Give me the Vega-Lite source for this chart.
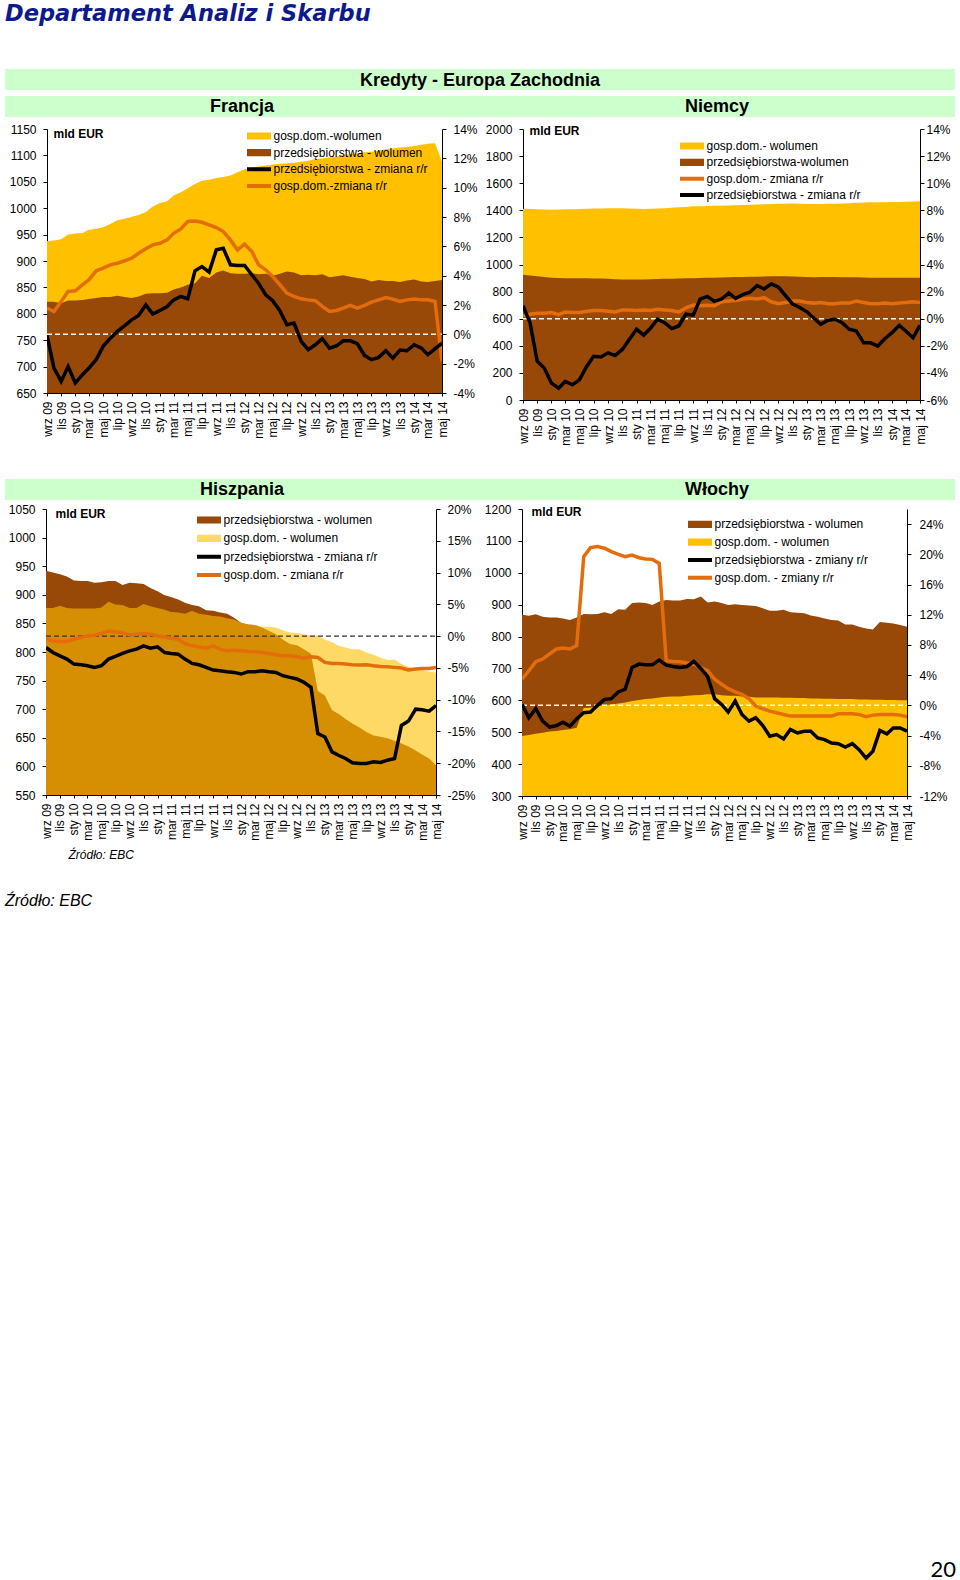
{
"$schema": "https://vega.github.io/schema/vega-lite/v6.json",
"padding": {"left": 5, "top": 2, "right": 0, "bottom": 0},
"title": {"text": "Departament Analiz i Skarbu", "anchor": "start", "font": "DejaVu Sans", "fontSize": 22.5, "fontStyle": "italic", "fontWeight": "bold", "color": "#0D1A8C", "offset": 44},
"datasets": {"m": [
{"d":"2009-09","fh":938,"fc":823,"fhy":1.79,"fcy":-0.07,"dh":1411,"dc":924,"dhy":0.2,"dcy":0.96,"eh":877,"ec":942,"ehy":-0.49,"ecy":-1.79,"ih":488,"ic":868,"ihy":3.47,"icy":0.13},
{"d":"2009-10","fh":939,"fc":823,"fhy":1.56,"fcy":-2.3,"dh":1410,"dc":918,"dhy":0.33,"dcy":-0.29,"eh":877,"ec":939,"ehy":-0.75,"ecy":-2.58,"ih":491,"ic":865,"ihy":4.58,"icy":-1.64},
{"d":"2009-11","fh":941,"fc":820,"fhy":2.24,"fcy":-3.21,"dh":1408,"dc":914,"dhy":0.4,"dcy":-3.14,"eh":881,"ec":936,"ehy":-0.86,"ecy":-3.1,"ih":495,"ic":870,"ihy":5.78,"icy":-0.45},
{"d":"2009-12","fh":950,"fc":825,"fhy":2.92,"fcy":-2.19,"dh":1406,"dc":908,"dhy":0.4,"dcy":-3.64,"eh":877,"ec":932,"ehy":-0.86,"ecy":-3.62,"ih":498,"ic":862,"ihy":6.13,"icy":-2.09},
{"d":"2010-01","fh":952,"fc":825,"fhy":2.97,"fcy":-3.32,"dh":1404,"dc":902,"dhy":0.45,"dcy":-4.76,"eh":876,"ec":925,"ehy":-0.49,"ecy":-4.4,"ih":502,"ic":860,"ihy":6.8,"icy":-2.89},
{"d":"2010-02","fh":953,"fc":826,"fhy":3.38,"fcy":-2.75,"dh":1405,"dc":900,"dhy":0.3,"dcy":-5.13,"eh":876,"ec":924,"ehy":-0.23,"ecy":-4.51,"ih":504,"ic":860,"ihy":7.47,"icy":-2.67},
{"d":"2010-03","fh":959,"fc":828,"fhy":3.72,"fcy":-2.3,"dh":1407,"dc":899,"dhy":0.5,"dcy":-4.63,"eh":876,"ec":924,"ehy":0.03,"ecy":-4.66,"ih":507,"ic":857,"ihy":7.6,"icy":-2.22},
{"d":"2010-04","fh":961,"fc":830,"fhy":4.33,"fcy":-1.73,"dh":1408,"dc":898,"dhy":0.45,"dcy":-4.88,"eh":876,"ec":921,"ehy":0.13,"ecy":-4.92,"ih":509,"ic":852,"ihy":7.47,"icy":-2.76},
{"d":"2010-05","fh":964,"fc":832,"fhy":4.51,"fcy":-0.82,"dh":1409,"dc":899,"dhy":0.45,"dcy":-4.51,"eh":878,"ec":922,"ehy":0.4,"ecy":-4.66,"ih":514,"ic":860,"ihy":7.91,"icy":-1.78},
{"d":"2010-06","fh":970,"fc":832,"fhy":4.74,"fcy":-0.26,"dh":1411,"dc":898,"dhy":0.55,"dcy":-3.52,"eh":888,"ec":924,"ehy":0.81,"ecy":-3.62,"ih":576,"ic":871,"ihy":19.69,"icy":-0.98},
{"d":"2010-07","fh":977,"fc":834,"fhy":4.85,"fcy":0.2,"dh":1413,"dc":897,"dhy":0.6,"dcy":-2.77,"eh":883,"ec":924,"ehy":0.66,"ecy":-3.2,"ih":577,"ic":870,"ihy":20.89,"icy":-0.89},
{"d":"2010-08","fh":980,"fc":832,"fhy":5.01,"fcy":0.58,"dh":1414,"dc":896,"dhy":0.6,"dcy":-2.82,"eh":882,"ec":917,"ehy":0.55,"ecy":-2.73,"ih":581,"ic":871,"ihy":21.02,"icy":0},
{"d":"2010-09","fh":984,"fc":830,"fhy":5.19,"fcy":0.99,"dh":1416,"dc":894,"dhy":0.55,"dcy":-2.52,"eh":877,"ec":921,"ehy":0.19,"ecy":-2.32,"ih":585,"ic":876,"ihy":20.8,"icy":0.8},
{"d":"2010-10","fh":987,"fc":833,"fhy":5.53,"fcy":1.29,"dh":1416,"dc":892,"dhy":0.5,"dcy":-2.72,"eh":877,"ec":920,"ehy":0.29,"ecy":-2.06,"ih":587,"ic":871,"ihy":20.35,"icy":0.89},
{"d":"2010-11","fh":993,"fc":838,"fhy":5.83,"fcy":2.01,"dh":1415,"dc":890,"dhy":0.65,"dcy":-2.27,"eh":884,"ec":919,"ehy":0.4,"ecy":-1.53,"ih":590,"ic":886,"ihy":20,"icy":1.78},
{"d":"2010-12","fh":1003,"fc":839,"fhy":6.1,"fcy":1.38,"dh":1414,"dc":890,"dhy":0.65,"dcy":-1.53,"eh":880,"ec":912,"ehy":0.29,"ecy":-1.9,"ih":593,"ic":884,"ihy":19.69,"icy":2.13},
{"d":"2011-01","fh":1010,"fc":839,"fhy":6.21,"fcy":1.63,"dh":1411,"dc":889,"dhy":0.6,"dcy":-0.78,"eh":877,"ec":906,"ehy":0.03,"ecy":-1.69,"ih":598,"ic":905,"ihy":19.91,"icy":5.02},
{"d":"2011-02","fh":1013,"fc":840,"fhy":6.44,"fcy":1.9,"dh":1410,"dc":890,"dhy":0.65,"dcy":-1.21,"eh":874,"ec":899,"ehy":-0.13,"ecy":-2.58,"ih":601,"ic":907,"ihy":19.55,"icy":5.47},
{"d":"2011-03","fh":1024,"fc":846,"fhy":6.89,"fcy":2.35,"dh":1412,"dc":892,"dhy":0.6,"dcy":-0.73,"eh":870,"ec":896,"ehy":-0.33,"ecy":-2.73,"ih":604,"ic":905,"ihy":19.38,"icy":5.38},
{"d":"2011-04","fh":1030,"fc":850,"fhy":7.19,"fcy":2.58,"dh":1414,"dc":893,"dhy":0.7,"dcy":-0.04,"eh":869,"ec":892,"ehy":-0.49,"ecy":-2.84,"ih":606,"ic":899,"ihy":19.33,"icy":5.38},
{"d":"2011-05","fh":1038,"fc":855,"fhy":7.69,"fcy":2.42,"dh":1416,"dc":894,"dhy":0.65,"dcy":-0.29,"eh":867,"ec":886,"ehy":-1.17,"ecy":-3.62,"ih":609,"ic":910,"ihy":18.8,"icy":6},
{"d":"2011-06","fh":1046,"fc":858,"fhy":7.73,"fcy":4.33,"dh":1419,"dc":895,"dhy":0.6,"dcy":-0.73,"eh":872,"ec":882,"ehy":-1.53,"ecy":-4.3,"ih":611,"ic":915,"ihy":5.91,"icy":5.33},
{"d":"2011-07","fh":1052,"fc":872,"fhy":7.64,"fcy":4.62,"dh":1422,"dc":897,"dhy":0.5,"dcy":-0.54,"eh":867,"ec":880,"ehy":-1.69,"ecy":-4.51,"ih":612,"ic":913,"ihy":5.82,"icy":5.15},
{"d":"2011-08","fh":1054,"fc":868,"fhy":7.46,"fcy":4.24,"dh":1425,"dc":898,"dhy":0.8,"dcy":0.33,"eh":865,"ec":873,"ehy":-1.9,"ecy":-4.92,"ih":612,"ic":913,"ihy":5.78,"icy":5.02},
{"d":"2011-09","fh":1057,"fc":878,"fhy":7.28,"fcy":5.76,"dh":1429,"dc":899,"dhy":1,"dcy":0.26,"eh":863,"ec":872,"ehy":-1.53,"ecy":-5.34,"ih":614,"ic":918,"ihy":5.6,"icy":5.15},
{"d":"2011-10","fh":1059,"fc":882,"fhy":7.01,"fcy":5.87,"dh":1430,"dc":900,"dhy":0.95,"dcy":1.45,"eh":862,"ec":869,"ehy":-2.06,"ecy":-5.44,"ih":616,"ic":917,"ihy":5.47,"icy":5.82},
{"d":"2011-11","fh":1062,"fc":877,"fhy":6.44,"fcy":4.74,"dh":1431,"dc":902,"dhy":1,"dcy":1.65,"eh":859,"ec":867,"ehy":-2.32,"ecy":-5.6,"ih":617,"ic":926,"ihy":5.02,"icy":4.89},
{"d":"2011-12","fh":1068,"fc":876,"fhy":5.76,"fcy":4.69,"dh":1433,"dc":903,"dhy":0.95,"dcy":1.28,"eh":857,"ec":860,"ehy":-2.21,"ecy":-5.71,"ih":619,"ic":907,"ihy":4.58,"icy":3.82},
{"d":"2012-01","fh":1074,"fc":876,"fhy":6.15,"fcy":4.69,"dh":1434,"dc":904,"dhy":1.25,"dcy":1.45,"eh":851,"ec":851,"ehy":-2.32,"ecy":-5.97,"ih":619,"ic":910,"ihy":3.47,"icy":0.89},
{"d":"2012-02","fh":1076,"fc":877,"fhy":5.65,"fcy":4.06,"dh":1435,"dc":905,"dhy":1.3,"dcy":1.9,"eh":848,"ec":848,"ehy":-2.42,"ecy":-5.6,"ih":616,"ic":905,"ihy":2.8,"icy":0.13},
{"d":"2012-03","fh":1079,"fc":875,"fhy":4.74,"fcy":3.49,"dh":1437,"dc":907,"dhy":1.35,"dcy":1.5,"eh":847,"ec":847,"ehy":-2.47,"ecy":-5.6,"ih":614,"ic":899,"ihy":2.22,"icy":-0.89},
{"d":"2012-04","fh":1081,"fc":876,"fhy":4.4,"fcy":2.69,"dh":1439,"dc":908,"dhy":1.45,"dcy":1.78,"eh":844,"ec":843,"ehy":-2.58,"ecy":-5.44,"ih":614,"ic":901,"ihy":1.78,"icy":0.58},
{"d":"2012-05","fh":1083,"fc":872,"fhy":3.94,"fcy":2.29,"dh":1441,"dc":909,"dhy":1.5,"dcy":1.95,"eh":844,"ec":837,"ehy":-2.73,"ecy":-5.6,"ih":612,"ic":899,"ihy":1.47,"icy":-1.2},
{"d":"2012-06","fh":1084,"fc":876,"fhy":3.38,"fcy":1.61,"dh":1442,"dc":910,"dhy":1.45,"dcy":2.45,"eh":843,"ec":831,"ehy":-2.94,"ecy":-5.71,"ih":611,"ic":897,"ihy":0.89,"icy":-2.09},
{"d":"2012-07","fh":1085,"fc":880,"fhy":2.81,"fcy":0.65,"dh":1444,"dc":911,"dhy":1.55,"dcy":2.2,"eh":838,"ec":822,"ehy":-3.1,"ecy":-6.23,"ih":609,"ic":896,"ihy":-0.09,"icy":-1.64},
{"d":"2012-08","fh":1086,"fc":878,"fhy":2.58,"fcy":0.77,"dh":1446,"dc":913,"dhy":1.25,"dcy":2.57,"eh":834,"ec":814,"ehy":-3.1,"ecy":-6.49,"ih":609,"ic":889,"ihy":-0.45,"icy":-2.67},
{"d":"2012-09","fh":1088,"fc":873,"fhy":2.42,"fcy":-0.48,"dh":1448,"dc":914,"dhy":1.1,"dcy":2.32,"eh":833,"ec":812,"ehy":-3.25,"ecy":-6.75,"ih":609,"ic":881,"ihy":-0.76,"icy":-4.09},
{"d":"2012-10","fh":1090,"fc":874,"fhy":2.35,"fcy":-1.05,"dh":1449,"dc":913,"dhy":1.2,"dcy":1.7,"eh":831,"ec":805,"ehy":-3.46,"ecy":-7.27,"ih":609,"ic":881,"ihy":-0.98,"icy":-3.87},
{"d":"2012-11","fh":1093,"fc":873,"fhy":2.29,"fcy":-0.71,"dh":1450,"dc":912,"dhy":1.3,"dcy":1.08,"eh":829,"ec":797,"ehy":-3.25,"ecy":-8.05,"ih":608,"ic":884,"ihy":-1.2,"icy":-4.45},
{"d":"2012-12","fh":1094,"fc":875,"fhy":1.9,"fcy":-0.3,"dh":1449,"dc":910,"dhy":1.3,"dcy":0.83,"eh":829,"ec":732,"ehy":-3.36,"ecy":-15.35,"ih":608,"ic":876,"ihy":-1.42,"icy":-3.2},
{"d":"2013-01","fh":1096,"fc":869,"fhy":1.56,"fcy":-0.94,"dh":1446,"dc":907,"dhy":1.2,"dcy":0.51,"eh":822,"ec":724,"ehy":-4.14,"ecy":-15.87,"ih":607,"ic":875,"ihy":-1.42,"icy":-3.64},
{"d":"2013-02","fh":1098,"fc":871,"fhy":1.63,"fcy":-0.78,"dh":1446,"dc":906,"dhy":1.15,"dcy":0.01,"eh":817,"ec":698,"ehy":-4.3,"ecy":-18.22,"ih":607,"ic":873,"ihy":-1.42,"icy":-3.42},
{"d":"2013-03","fh":1101,"fc":873,"fhy":1.79,"fcy":-0.44,"dh":1447,"dc":907,"dhy":1.2,"dcy":-0.41,"eh":811,"ec":692,"ehy":-4.3,"ecy":-18.74,"ih":606,"ic":866,"ihy":-1.42,"icy":-3.42},
{"d":"2013-04","fh":1102,"fc":870,"fhy":1.97,"fcy":-0.44,"dh":1448,"dc":907,"dhy":1.1,"dcy":-0.11,"eh":808,"ec":683,"ehy":-4.4,"ecy":-19.26,"ih":606,"ic":862,"ihy":-1.42,"icy":-4.31},
{"d":"2013-05","fh":1104,"fc":868,"fhy":1.79,"fcy":-0.64,"dh":1448,"dc":907,"dhy":1.1,"dcy":-0.04,"eh":805,"ec":675,"ehy":-4.51,"ecy":-19.94,"ih":605,"ic":857,"ihy":-1.42,"icy":-4.53},
{"d":"2013-06","fh":1106,"fc":866,"fhy":1.97,"fcy":-1.44,"dh":1450,"dc":906,"dhy":1.15,"dcy":-0.29,"eh":805,"ec":668,"ehy":-4.56,"ecy":-20.04,"ih":605,"ic":852,"ihy":-1.42,"icy":-4.98},
{"d":"2013-07","fh":1107,"fc":861,"fhy":2.2,"fcy":-1.73,"dh":1452,"dc":905,"dhy":1.15,"dcy":-0.78,"eh":799,"ec":660,"ehy":-4.51,"ecy":-20.04,"ih":604,"ic":850,"ihy":-1.11,"icy":-5.07},
{"d":"2013-08","fh":1109,"fc":864,"fhy":2.35,"fcy":-1.57,"dh":1455,"dc":905,"dhy":1.3,"dcy":-0.91,"eh":795,"ec":654,"ehy":-4.66,"ecy":-19.78,"ih":604,"ic":838,"ihy":-1.11,"icy":-5.51},
{"d":"2013-09","fh":1112,"fc":862,"fhy":2.51,"fcy":-1.12,"dh":1458,"dc":904,"dhy":1.2,"dcy":-1.78,"eh":790,"ec":652,"ehy":-4.77,"ecy":-19.89,"ih":604,"ic":838,"ihy":-1.11,"icy":-5.07},
{"d":"2013-10","fh":1113,"fc":862,"fhy":2.4,"fcy":-1.62,"dh":1459,"dc":903,"dhy":1.1,"dcy":-1.78,"eh":786,"ec":649,"ehy":-4.82,"ecy":-19.52,"ih":603,"ic":831,"ihy":-1.2,"icy":-5.87},
{"d":"2013-11","fh":1115,"fc":860,"fhy":2.24,"fcy":-1.07,"dh":1460,"dc":903,"dhy":1.1,"dcy":-2.02,"eh":787,"ec":645,"ehy":-4.92,"ecy":-19.26,"ih":603,"ic":825,"ihy":-1.51,"icy":-6.98},
{"d":"2013-12","fh":1116,"fc":863,"fhy":2.35,"fcy":-1.12,"dh":1460,"dc":902,"dhy":1.15,"dcy":-1.48,"eh":779,"ec":640,"ehy":-5.03,"ecy":-14.05,"ih":602,"ic":822,"ihy":-1.29,"icy":-6.09},
{"d":"2014-01","fh":1118,"fc":865,"fhy":2.4,"fcy":-0.71,"dh":1461,"dc":902,"dhy":1.1,"dcy":-1.03,"eh":774,"ec":635,"ehy":-5.34,"ecy":-13.37,"ih":602,"ic":846,"ihy":-1.2,"icy":-3.33},
{"d":"2014-02","fh":1120,"fc":861,"fhy":2.35,"fcy":-0.94,"dh":1462,"dc":902,"dhy":1.15,"dcy":-0.49,"eh":771,"ec":628,"ehy":-5.18,"ecy":-11.49,"ih":601,"ic":843,"ihy":-1.2,"icy":-3.78},
{"d":"2014-03","fh":1122,"fc":860,"fhy":2.35,"fcy":-1.39,"dh":1463,"dc":902,"dhy":1.2,"dcy":-0.91,"eh":769,"ec":621,"ehy":-5.08,"ecy":-11.6,"ih":601,"ic":841,"ihy":-1.2,"icy":-2.98},
{"d":"2014-04","fh":1123,"fc":862,"fhy":2.24,"fcy":-0.98,"dh":1465,"dc":902,"dhy":1.25,"dcy":-1.4,"eh":766,"ec":614,"ehy":-5.08,"ecy":-11.8,"ih":600,"ic":836,"ihy":-1.29,"icy":-2.98},
{"d":"2014-05","fh":1088,"fc":864,"fhy":-1.85,"fcy":-0.6,"dh":1466,"dc":902,"dhy":1.2,"dcy":-0.49,"eh":764,"ec":602,"ehy":-4.92,"ecy":-10.92,"ih":600,"ic":831,"ihy":-1.51,"icy":-3.42}
]},
"spacing": 0,
"resolve": {"scale": {"fill": "independent", "stroke": "independent"}},
"vconcat": [
{"width": 950, "height": 21, "view": {"fill": "#CCFFCC", "stroke": null}, "data": {"values": [{"t": "Kredyty - Europa Zachodnia"}]}, "mark": {"type": "text", "fontSize": 18, "fontWeight": "bold", "color": "#000000", "dy": 1}, "encoding": {"text": {"field": "t", "type": "nominal"}}},
{"width": 1, "height": 6, "data": {"values": []}, "mark": "point"},
{"hconcat": [
  {"width": 474, "height": 21, "view": {"fill": "#CCFFCC", "stroke": null}, "data": {"values": [{"t": "Francja"}]}, "mark": {"type": "text", "fontSize": 18, "fontWeight": "bold", "color": "#000000"}, "encoding": {"text": {"field": "t", "type": "nominal"}}},
  {"width": 476, "height": 21, "view": {"fill": "#CCFFCC", "stroke": null}, "data": {"values": [{"t": "Niemcy"}]}, "mark": {"type": "text", "fontSize": 18, "fontWeight": "bold", "color": "#000000"}, "encoding": {"text": {"field": "t", "type": "nominal"}}}
], "spacing": 0, "bounds": "flush"},
{"width": 1, "height": 6, "data": {"values": []}, "mark": "point"},
{"hconcat": [
  {"width": 42, "height": 1, "data": {"values": []}, "mark": "point"},
  {"width": 395, "height": 264, "data": {"name": "m"},
   "encoding": {"x": {"field": "d", "type": "temporal", "title": null, "scale": {"type": "utc", "nice": false}, "axis": {"tickCount": {"interval": "month", "step": 2}, "labelExpr": "['sty','lut','mar','kwi','maj','cze','lip','sie','wrz','paź','lis','gru'][utcmonth(datum.value)] + ' ' + utcFormat(datum.value, '%y')", "labelAngle": -90, "labelOverlap": false, "labelFlush": false, "labelBound": false, "tickSize": 3, "labelPadding": 5}}},
   "layer": [
    {"layer": [
     {"mark": {"type": "area", "clip": true}, "encoding": {
       "y": {"field": "fh", "type": "quantitative", "title": "mld EUR", "scale": {"domain": [650, 1150], "nice": false, "zero": false}, "axis": {"orient": "left", "values": [650,700,750,800,850,900,950,1000,1050,1100,1150], "format": "d", "labelOverlap": false, "labelSeparation": 0, "titleAngle": 0, "titleAlign": "left", "titleBaseline": "middle", "titleX": 6, "titleY": 4}},
       "fill": {"datum": "gosp.dom.-wolumen", "type": "nominal", "scale": {"domain": ["gosp.dom.-wolumen", "przedsiębiorstwa - wolumen"], "range": ["#FFC000", "#984807"]}, "legend": {"orient": "none", "legendX": 200, "legendY": 0, "title": null, "symbolType": "M-1,-0.3H1V0.3H-1Z", "symbolSize": 576, "symbolStrokeWidth": 0, "rowPadding": 2.7, "labelOffset": 2.5}}}},
     {"mark": {"type": "area", "clip": true}, "encoding": {
       "y": {"field": "fc", "type": "quantitative", "title": "mld EUR", "axis": {"orient": "left", "values": [650,700,750,800,850,900,950,1000,1050,1100,1150], "format": "d", "labelOverlap": false, "labelSeparation": 0, "titleAngle": 0, "titleAlign": "left", "titleBaseline": "middle", "titleX": 6, "titleY": 4}},
       "fill": {"datum": "przedsiębiorstwa - wolumen", "type": "nominal"}}}
    ]},
    {"layer": [
     {"mark": {"type": "line", "color": "#FFF3E6", "strokeDash": [5, 3], "strokeWidth": 1.5}, "encoding": {
       "y": {"datum": 0, "type": "quantitative", "scale": {"domain": [-4, 14], "nice": false, "zero": false}, "axis": {"orient": "right", "values": [-4,-2,0,2,4,6,8,10,12,14], "labelExpr": "datum.value + '%'", "labelOverlap": false, "labelSeparation": 0, "title": null}}}},
     {"mark": {"type": "line", "strokeWidth": 3.5, "clip": true}, "encoding": {
       "y": {"field": "fhy", "type": "quantitative", "title": null, "axis": {"orient": "right", "values": [-4,-2,0,2,4,6,8,10,12,14], "labelExpr": "datum.value + '%'", "labelOverlap": false, "labelSeparation": 0, "title": null}},
       "stroke": {"datum": "gosp.dom.-zmiana r/r", "type": "nominal", "scale": {"domain": ["przedsiębiorstwa - zmiana r/r", "gosp.dom.-zmiana r/r"], "range": ["#000000", "#E46C0A"]}, "legend": {"orient": "none", "legendX": 198, "legendY": 33.3, "title": null, "symbolType": "stroke", "symbolSize": 576, "symbolStrokeWidth": 4, "rowPadding": 2.7, "labelOffset": 0.5}}}},
     {"mark": {"type": "line", "strokeWidth": 3.5, "clip": true}, "encoding": {
       "y": {"field": "fcy", "type": "quantitative", "title": null, "axis": {"orient": "right", "values": [-4,-2,0,2,4,6,8,10,12,14], "labelExpr": "datum.value + '%'", "labelOverlap": false, "labelSeparation": 0, "title": null}},
       "stroke": {"datum": "przedsiębiorstwa - zmiana r/r", "type": "nominal"}}}
    ]}
   ],
   "resolve": {"scale": {"y": "independent"}}
  },
  {"width": 81, "height": 1, "data": {"values": []}, "mark": "point"},
  {"width": 397, "height": 271, "data": {"name": "m"},
   "encoding": {"x": {"field": "d", "type": "temporal", "title": null, "scale": {"type": "utc", "nice": false}, "axis": {"tickCount": {"interval": "month", "step": 2}, "labelExpr": "['sty','lut','mar','kwi','maj','cze','lip','sie','wrz','paź','lis','gru'][utcmonth(datum.value)] + ' ' + utcFormat(datum.value, '%y')", "labelAngle": -90, "labelOverlap": false, "labelFlush": false, "labelBound": false, "tickSize": 3, "labelPadding": 5}}},
   "layer": [
    {"layer": [
     {"mark": {"type": "area", "clip": true}, "encoding": {
       "y": {"field": "dh", "type": "quantitative", "title": "mld EUR", "scale": {"domain": [0, 2000], "nice": false}, "axis": {"orient": "left", "values": [0,200,400,600,800,1000,1200,1400,1600,1800,2000], "format": "d", "labelOverlap": false, "labelSeparation": 0, "titleAngle": 0, "titleAlign": "left", "titleBaseline": "middle", "titleX": 6, "titleY": 1}},
       "fill": {"datum": "gosp.dom.- wolumen", "type": "nominal", "scale": {"domain": ["gosp.dom.- wolumen", "przedsiębiorstwa-wolumen"], "range": ["#FFC000", "#984807"]}, "legend": {"orient": "none", "legendX": 157, "legendY": 10, "title": null, "symbolType": "M-1,-0.3H1V0.3H-1Z", "symbolSize": 576, "symbolStrokeWidth": 0, "rowPadding": 2.3, "labelOffset": 2.5}}}},
     {"mark": {"type": "area", "clip": true}, "encoding": {
       "y": {"field": "dc", "type": "quantitative", "title": "mld EUR", "axis": {"orient": "left", "values": [0,200,400,600,800,1000,1200,1400,1600,1800,2000], "format": "d", "labelOverlap": false, "labelSeparation": 0, "titleAngle": 0, "titleAlign": "left", "titleBaseline": "middle", "titleX": 6, "titleY": 1}},
       "fill": {"datum": "przedsiębiorstwa-wolumen", "type": "nominal"}}}
    ]},
    {"layer": [
     {"mark": {"type": "line", "color": "#FFF3E6", "strokeDash": [5, 3], "strokeWidth": 1.5}, "encoding": {
       "y": {"datum": 0, "type": "quantitative", "scale": {"domain": [-6, 14], "nice": false, "zero": false}, "axis": {"orient": "right", "values": [-6,-4,-2,0,2,4,6,8,10,12,14], "labelExpr": "datum.value + '%'", "labelOverlap": false, "labelSeparation": 0, "title": null, "labelPadding": 2}}}},
     {"mark": {"type": "line", "strokeWidth": 3.5, "clip": true}, "encoding": {
       "y": {"field": "dhy", "type": "quantitative", "title": null, "axis": {"orient": "right", "values": [-6,-4,-2,0,2,4,6,8,10,12,14], "labelExpr": "datum.value + '%'", "labelOverlap": false, "labelSeparation": 0, "title": null, "labelPadding": 2}},
       "stroke": {"datum": "gosp.dom.- zmiana r/r", "type": "nominal", "scale": {"domain": ["gosp.dom.- zmiana r/r", "przedsiębiorstwa - zmiana r/r"], "range": ["#E46C0A", "#000000"]}, "legend": {"orient": "none", "legendX": 155, "legendY": 42.7, "title": null, "symbolType": "stroke", "symbolSize": 576, "symbolStrokeWidth": 4, "rowPadding": 2.3, "labelOffset": 0.5}}}},
     {"mark": {"type": "line", "strokeWidth": 3.5, "clip": true}, "encoding": {
       "y": {"field": "dcy", "type": "quantitative", "title": null, "axis": {"orient": "right", "values": [-6,-4,-2,0,2,4,6,8,10,12,14], "labelExpr": "datum.value + '%'", "labelOverlap": false, "labelSeparation": 0, "title": null, "labelPadding": 2}},
       "stroke": {"datum": "przedsiębiorstwa - zmiana r/r", "type": "nominal"}}}
    ]}
   ],
   "resolve": {"scale": {"y": "independent"}}
  }
], "spacing": 0, "bounds": "flush", "resolve": {"scale": {"fill": "independent", "stroke": "independent"}}},
{"width": 1, "height": 33, "data": {"values": []}, "mark": "point"},
{"hconcat": [
  {"width": 474, "height": 21, "view": {"fill": "#CCFFCC", "stroke": null}, "data": {"values": [{"t": "Hiszpania"}]}, "mark": {"type": "text", "fontSize": 18, "fontWeight": "bold", "color": "#000000"}, "encoding": {"text": {"field": "t", "type": "nominal"}}},
  {"width": 476, "height": 21, "view": {"fill": "#CCFFCC", "stroke": null}, "data": {"values": [{"t": "Włochy"}]}, "mark": {"type": "text", "fontSize": 18, "fontWeight": "bold", "color": "#000000"}, "encoding": {"text": {"field": "t", "type": "nominal"}}}
], "spacing": 0, "bounds": "flush"},
{"width": 1, "height": 3, "data": {"values": []}, "mark": "point"},
{"hconcat": [
  {"width": 41, "height": 1, "data": {"values": []}, "mark": "point"},
  {"width": 390, "height": 286, "data": {"name": "m"},
   "encoding": {"x": {"field": "d", "type": "temporal", "title": "Źródło: EBC", "scale": {"type": "utc", "nice": false}, "axis": {"tickCount": {"interval": "month", "step": 2}, "labelExpr": "['sty','lut','mar','kwi','maj','cze','lip','sie','wrz','paź','lis','gru'][utcmonth(datum.value)] + ' ' + utcFormat(datum.value, '%y')", "labelAngle": -90, "labelOverlap": false, "labelFlush": false, "labelBound": false, "tickSize": 3, "labelPadding": 5, "titleX": 22, "titleY": 54, "titleAlign": "left", "titleBaseline": "top", "titleAngle": 0, "titleFontStyle": "italic", "titleFontWeight": "normal", "titleFontSize": 12}}},
   "layer": [
    {"layer": [
     {"mark": {"type": "area", "clip": true}, "encoding": {
       "y": {"field": "ec", "type": "quantitative", "title": "mld EUR", "scale": {"domain": [550, 1050], "nice": false, "zero": false}, "axis": {"orient": "left", "values": [550,600,650,700,750,800,850,900,950,1000,1050], "format": "d", "labelOverlap": false, "labelSeparation": 0, "titleAngle": 0, "titleAlign": "left", "titleBaseline": "middle", "titleX": 9, "titleY": 4.3}},
       "fill": {"datum": "przedsiębiorstwa - wolumen", "type": "nominal", "scale": {"domain": ["przedsiębiorstwa - wolumen", "gosp.dom. - wolumen"], "range": ["#984807", "#FFD966"]}, "legend": {"orient": "none", "legendX": 151, "legendY": 4, "title": null, "symbolType": "M-1,-0.3H1V0.3H-1Z", "symbolSize": 576, "symbolStrokeWidth": 0, "rowPadding": 4.3, "labelOffset": 2.5}}}},
     {"mark": {"type": "area", "clip": true, "fill": "#FFC000", "opacity": 0.6}, "encoding": {
       "y": {"field": "eh", "type": "quantitative", "title": "mld EUR", "axis": {"orient": "left", "values": [550,600,650,700,750,800,850,900,950,1000,1050], "format": "d", "labelOverlap": false, "labelSeparation": 0, "titleAngle": 0, "titleAlign": "left", "titleBaseline": "middle", "titleX": 9, "titleY": 4.3}}}},
     {"mark": {"type": "area", "clip": true}, "encoding": {
       "y": {"datum": 550, "type": "quantitative", "axis": {"orient": "left", "values": [550,600,650,700,750,800,850,900,950,1000,1050], "format": "d", "labelOverlap": false, "labelSeparation": 0, "titleAngle": 0, "titleAlign": "left", "titleBaseline": "middle", "titleX": 9, "titleY": 4.3}},
       "fill": {"datum": "gosp.dom. - wolumen", "type": "nominal"}}}
    ]},
    {"layer": [
     {"mark": {"type": "line", "color": "#333333", "strokeDash": [5, 3], "strokeWidth": 1.2}, "encoding": {
       "y": {"datum": 0, "type": "quantitative", "scale": {"domain": [-25, 20], "nice": false, "zero": false}, "axis": {"orient": "right", "values": [-25,-20,-15,-10,-5,0,5,10,15,20], "labelExpr": "datum.value + '%'", "labelOverlap": false, "labelSeparation": 0, "title": null}}}},
     {"mark": {"type": "line", "strokeWidth": 3.5, "clip": true}, "encoding": {
       "y": {"field": "ehy", "type": "quantitative", "title": null, "axis": {"orient": "right", "values": [-25,-20,-15,-10,-5,0,5,10,15,20], "labelExpr": "datum.value + '%'", "labelOverlap": false, "labelSeparation": 0, "title": null}},
       "stroke": {"datum": "gosp.dom. - zmiana r/r", "type": "nominal", "scale": {"domain": ["przedsiębiorstwa - zmiana r/r", "gosp.dom. - zmiana r/r"], "range": ["#000000", "#E46C0A"]}, "legend": {"orient": "none", "legendX": 149, "legendY": 40.7, "title": null, "symbolType": "stroke", "symbolSize": 576, "symbolStrokeWidth": 4, "rowPadding": 4.3, "labelOffset": 0.5}}}},
     {"mark": {"type": "line", "strokeWidth": 3.5, "clip": true}, "encoding": {
       "y": {"field": "ecy", "type": "quantitative", "title": null, "axis": {"orient": "right", "values": [-25,-20,-15,-10,-5,0,5,10,15,20], "labelExpr": "datum.value + '%'", "labelOverlap": false, "labelSeparation": 0, "title": null}},
       "stroke": {"datum": "przedsiębiorstwa - zmiana r/r", "type": "nominal"}}}
    ]}
   ],
   "resolve": {"scale": {"y": "independent"}}
  },
  {"width": 86, "height": 1, "data": {"values": []}, "mark": "point"},
  {"width": 385, "height": 287, "data": {"name": "m"},
   "encoding": {"x": {"field": "d", "type": "temporal", "title": null, "scale": {"type": "utc", "nice": false}, "axis": {"tickCount": {"interval": "month", "step": 2}, "labelExpr": "['sty','lut','mar','kwi','maj','cze','lip','sie','wrz','paź','lis','gru'][utcmonth(datum.value)] + ' ' + utcFormat(datum.value, '%y')", "labelAngle": -90, "labelOverlap": false, "labelFlush": false, "labelBound": false, "tickSize": 3, "labelPadding": 5}}},
   "layer": [
    {"layer": [
     {"mark": {"type": "area", "clip": true}, "encoding": {
       "y": {"field": "ic", "type": "quantitative", "title": "mld EUR", "scale": {"domain": [300, 1200], "nice": false, "zero": false}, "axis": {"orient": "left", "values": [300,400,500,600,700,800,900,1000,1100,1200], "format": "d", "labelOverlap": false, "labelSeparation": 0, "titleAngle": 0, "titleAlign": "left", "titleBaseline": "middle", "titleX": 9, "titleY": 2.7}},
       "fill": {"datum": "przedsiębiorstwa - wolumen", "type": "nominal", "scale": {"domain": ["przedsiębiorstwa - wolumen", "gosp.dom. - wolumen"], "range": ["#984807", "#FFC000"]}, "legend": {"orient": "none", "legendX": 166, "legendY": 8.3, "title": null, "symbolType": "M-1,-0.3H1V0.3H-1Z", "symbolSize": 576, "symbolStrokeWidth": 0, "rowPadding": 3.8, "labelOffset": 2.5}}}},
     {"mark": {"type": "area", "clip": true}, "encoding": {
       "y": {"field": "ih", "type": "quantitative", "title": "mld EUR", "axis": {"orient": "left", "values": [300,400,500,600,700,800,900,1000,1100,1200], "format": "d", "labelOverlap": false, "labelSeparation": 0, "titleAngle": 0, "titleAlign": "left", "titleBaseline": "middle", "titleX": 9, "titleY": 2.7}},
       "fill": {"datum": "gosp.dom. - wolumen", "type": "nominal"}}}
    ]},
    {"layer": [
     {"mark": {"type": "line", "color": "#FFF8EE", "strokeDash": [5, 3], "strokeWidth": 1.5}, "encoding": {
       "y": {"datum": 0, "type": "quantitative", "scale": {"domain": [-12, 26], "nice": false, "zero": false}, "axis": {"orient": "right", "values": [-12,-8,-4,0,4,8,12,16,20,24], "labelExpr": "datum.value + '%'", "labelOverlap": false, "labelSeparation": 0, "title": null, "labelPadding": 8}}}},
     {"mark": {"type": "line", "strokeWidth": 3.5, "clip": true}, "encoding": {
       "y": {"field": "ihy", "type": "quantitative", "title": null, "axis": {"orient": "right", "values": [-12,-8,-4,0,4,8,12,16,20,24], "labelExpr": "datum.value + '%'", "labelOverlap": false, "labelSeparation": 0, "title": null, "labelPadding": 8}},
       "stroke": {"datum": "gosp.dom. - zmiany r/r", "type": "nominal", "scale": {"domain": ["przedsiębiorstwa - zmiany r/r", "gosp.dom. - zmiany r/r"], "range": ["#000000", "#E46C0A"]}, "legend": {"orient": "none", "legendX": 164, "legendY": 44, "title": null, "symbolType": "stroke", "symbolSize": 576, "symbolStrokeWidth": 4, "rowPadding": 3.8, "labelOffset": 0.5}}}},
     {"mark": {"type": "line", "strokeWidth": 3.5, "clip": true}, "encoding": {
       "y": {"field": "icy", "type": "quantitative", "title": null, "axis": {"orient": "right", "values": [-12,-8,-4,0,4,8,12,16,20,24], "labelExpr": "datum.value + '%'", "labelOverlap": false, "labelSeparation": 0, "title": null, "labelPadding": 8}},
       "stroke": {"datum": "przedsiębiorstwa - zmiany r/r", "type": "nominal"}}}
    ]}
   ],
   "resolve": {"scale": {"y": "independent"}}
  }
], "spacing": 0, "bounds": "flush", "resolve": {"scale": {"fill": "independent", "stroke": "independent"}}},
{"width": 1, "height": 33, "data": {"values": []}, "mark": "point"},
{"width": 1, "height": 1, "data": {"values": []}, "mark": "point", "title": {"text": "Źródło: EBC", "anchor": "start", "fontSize": 16, "fontStyle": "italic", "fontWeight": "normal", "font": "Liberation Sans", "offset": 0, "color": "#000000"}},
{"width": 1, "height": 649, "data": {"values": []}, "mark": "point"},
{"width": 951, "height": 1, "data": {"values": []}, "mark": "point", "title": {"text": "20", "anchor": "end", "fontSize": 22, "font": "Lato", "fontWeight": "normal", "offset": 0, "color": "#000000"}}
],
"config": {
  "font": "Liberation Sans",
  "view": {"stroke": null},
  "axis": {"grid": false, "domainColor": "#000000", "tickColor": "#000000", "labelColor": "#000000", "labelFontSize": 12, "labelFont": "Liberation Sans", "labelOverlap": false, "titleColor": "#000000", "titleFont": "Liberation Sans", "titleFontSize": 12, "titleFontWeight": "bold", "titlePadding": 0, "tickSize": 4, "labelPadding": 7, "zindex": 1},
  "legend": {"labelFont": "Liberation Sans", "labelFontSize": 12, "labelColor": "#000000", "padding": 0, "clipHeight": 14}
}
}
